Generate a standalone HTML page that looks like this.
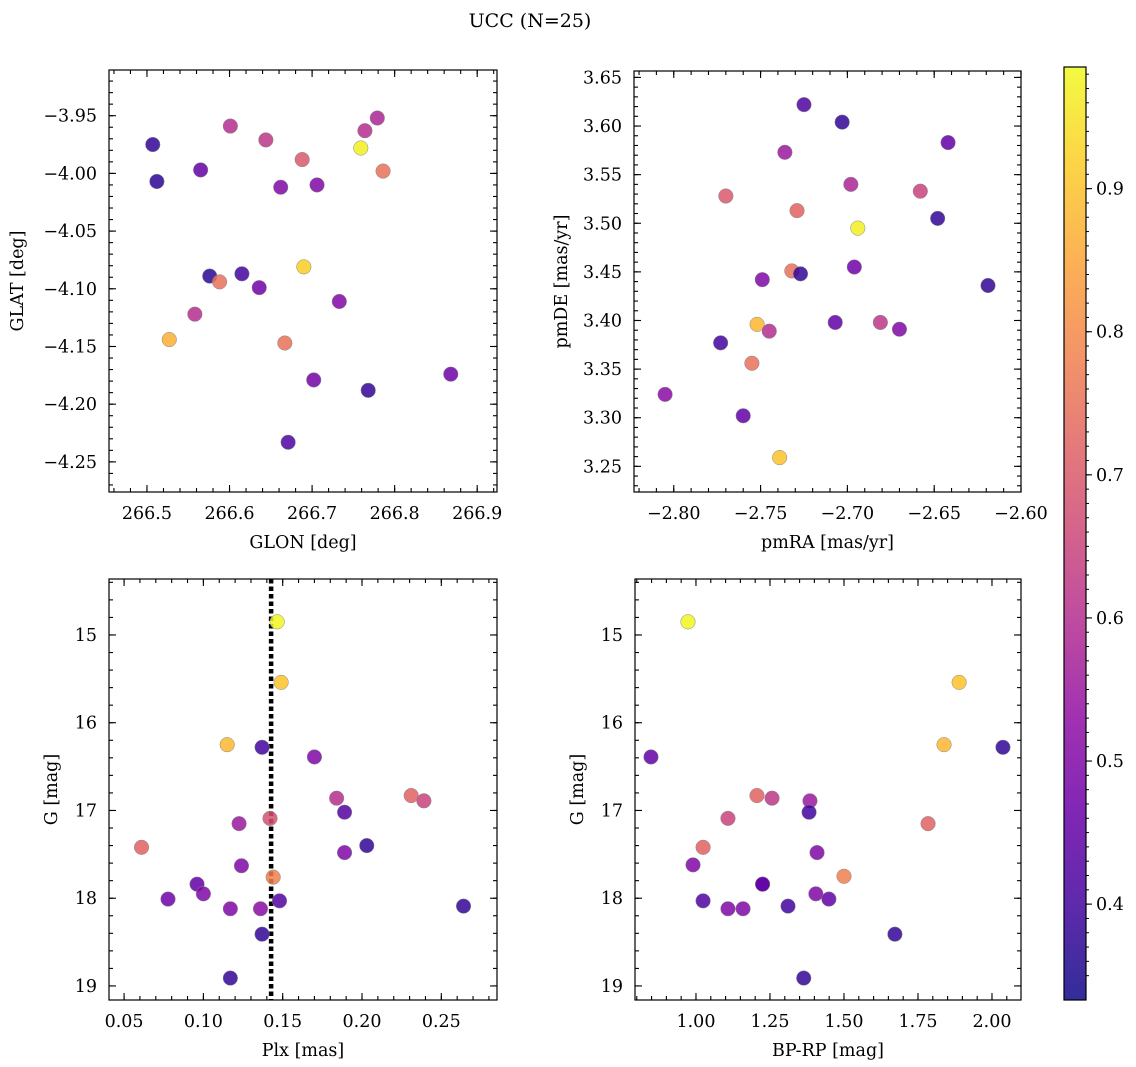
<!DOCTYPE html>
<html><head><meta charset="utf-8"><style>
body{margin:0;background:#fff;}
svg{display:block;font-family:"DejaVu Serif","Liberation Serif",serif;}
</style></head><body>
<svg id="fig" width="1136" height="1067" viewBox="0 0 1136 1067" xmlns="http://www.w3.org/2000/svg">
<text x="530" y="27" font-size="19" text-anchor="middle">UCC (N=25)</text>
</svg>
<script>
// ---- data ----
const glon = [266.507,266.512,266.565,266.601,266.644,266.688,266.662,266.706,266.764,266.779,266.759,266.786,266.576,266.615,266.588,266.636,266.690,266.733,266.558,266.527,266.667,266.702,266.768,266.868,266.671];
const glat = [-3.975,-4.007,-3.997,-3.959,-3.971,-3.988,-4.012,-4.010,-3.963,-3.952,-3.978,-3.998,-4.089,-4.087,-4.094,-4.099,-4.081,-4.111,-4.122,-4.144,-4.147,-4.179,-4.188,-4.174,-4.233];
const probTL = [0.38,0.37,0.45,0.6,0.62,0.7,0.5,0.5,0.6,0.58,0.97,0.75,0.37,0.4,0.75,0.47,0.92,0.5,0.6,0.87,0.75,0.48,0.38,0.47,0.42];
const pmra = [-2.725,-2.703,-2.736,-2.642,-2.770,-2.729,-2.698,-2.658,-2.648,-2.694,-2.749,-2.732,-2.727,-2.696,-2.619,-2.752,-2.745,-2.707,-2.681,-2.670,-2.773,-2.755,-2.805,-2.760,-2.739];
const pmde = [3.622,3.604,3.573,3.583,3.528,3.513,3.540,3.533,3.505,3.495,3.442,3.451,3.448,3.455,3.436,3.396,3.389,3.398,3.398,3.391,3.377,3.356,3.324,3.302,3.259];
const probTR = [0.42,0.38,0.55,0.45,0.7,0.72,0.58,0.65,0.38,0.97,0.5,0.75,0.38,0.47,0.38,0.88,0.6,0.45,0.62,0.5,0.4,0.75,0.52,0.45,0.9];
const plx = [0.1465,0.149,0.115,0.137,0.170,0.061,0.184,0.231,0.239,0.189,0.1225,0.142,0.189,0.203,0.124,0.144,0.096,0.0777,0.100,0.117,0.136,0.148,0.137,0.264,0.117];
const gmagBL = [14.85,15.54,16.25,16.28,16.39,17.42,16.86,16.83,16.89,17.02,17.15,17.09,17.48,17.40,17.63,17.76,17.84,18.01,17.95,18.12,18.12,18.03,18.41,18.09,18.91];
const probBL = [0.98,0.9,0.88,0.4,0.5,0.72,0.6,0.72,0.65,0.43,0.55,0.68,0.5,0.38,0.5,0.78,0.45,0.47,0.5,0.5,0.52,0.43,0.38,0.38,0.38];
const bprp = [0.973,1.889,1.838,2.037,0.848,1.024,1.108,1.206,1.257,1.385,1.382,1.784,1.409,0.990,1.500,1.225,1.225,1.024,1.108,1.159,1.405,1.449,1.311,1.672,1.364];
const gmagBR = [14.85,15.54,16.25,16.28,16.39,17.42,17.09,16.83,16.86,16.89,17.02,17.15,17.48,17.62,17.75,17.84,17.84,18.03,18.12,18.12,17.95,18.01,18.09,18.41,18.91];
const probBR = [0.98,0.9,0.88,0.38,0.45,0.72,0.65,0.72,0.62,0.55,0.4,0.72,0.5,0.5,0.78,0.45,0.45,0.42,0.5,0.5,0.5,0.45,0.4,0.38,0.38];
const plxLine = [0.1427];
const cbTicks = [0.4,0.5,0.6,0.7,0.8,0.9];
const vmin = 0.333, vmax = 0.985;

const NS="http://www.w3.org/2000/svg";
const svg=document.getElementById('fig');
function mk(tag,attrs,parent){const e=document.createElementNS(NS,tag);for(const k in attrs)e.setAttribute(k,attrs[k]);(parent||svg).appendChild(e);return e;}
const plasma=[[13,8,135],[65,4,157],[106,0,168],[143,13,164],[177,42,144],[204,71,120],[225,100,98],[242,132,75],[252,166,54],[252,206,37],[240,249,33]];
function cmap(v){let t=(v-vmin)/(vmax-vmin);t=Math.max(0,Math.min(1,t));const f=t*10,i=Math.min(9,Math.floor(f)),r=f-i;const a=plasma[i],b=plasma[i+1];return `rgb(${Math.round(a[0]+(b[0]-a[0])*r)},${Math.round(a[1]+(b[1]-a[1])*r)},${Math.round(a[2]+(b[2]-a[2])*r)})`;}
const FS=17.5;
function panel(o){
  const g=mk('g',{});
  
  
  const sx=v=>o.L+(v-o.x0)/(o.x1-o.x0)*(o.R-o.L);
  const sy=v=>o.T+(v-o.y0)/(o.y1-o.y0)*(o.B-o.T);
  const eps=1e-9;
  function ticksX(step,len,labels){const s=Math.ceil(Math.min(o.x0,o.x1)/step-eps);for(let k=s;k*step<=Math.max(o.x0,o.x1)+eps;k++){const v=k*step,x=sx(v);mk('line',{x1:x,x2:x,y1:o.B,y2:o.B-len,stroke:'#000','stroke-width':1.1},g);mk('line',{x1:x,x2:x,y1:o.T,y2:o.T+len,stroke:'#000','stroke-width':1.1},g);
    if(labels){const t=mk('text',{x:x,y:o.B+27,'font-size':FS,'text-anchor':'middle'},g);t.textContent=o.fx(v);}}}
  function ticksY(step,len,labels){const lo=Math.min(o.y0,o.y1),hi=Math.max(o.y0,o.y1);const s=Math.ceil(lo/step-eps);for(let k=s;k*step<=hi+eps;k++){const v=k*step,y=sy(v);mk('line',{x1:o.L,x2:o.L+len,y1:y,y2:y,stroke:'#000','stroke-width':1.1},g);mk('line',{x1:o.R,x2:o.R-len,y1:y,y2:y,stroke:'#000','stroke-width':1.1},g);
    if(labels){const t=mk('text',{x:o.L-12,y:y+6,'font-size':FS,'text-anchor':'end'},g);t.textContent=o.fy(v);}}}
  ticksX(o.xmin,4,false);ticksX(o.xmaj,7,true);ticksY(o.ymin,4,false);ticksY(o.ymaj,7,true);
  if(o.vline){o.vline.forEach(v=>{const l=mk('line',{x1:sx(v),x2:sx(v),y1:o.T,y2:o.B,stroke:'#000','stroke-width':4.5,'stroke-dasharray':'4.5,3'},g);});}
  o.xs.forEach((v,i)=>{const c=mk('circle',{cx:sx(v),cy:sy(o.ys[i]),r:7.3,fill:cmap(o.cs[i]),'fill-opacity':0.85,stroke:'#888','stroke-width':0.5},g);
    });
  const fr=mk('rect',{x:o.L,y:o.T,width:o.R-o.L,height:o.B-o.T,fill:'none',stroke:'#000','stroke-width':1.2},g);
  
  const xl=mk('text',{x:(o.L+o.R)/2,y:o.B+56,'font-size':FS,'text-anchor':'middle'},g);xl.textContent=o.xlab;
  
  const yc=(o.T+o.B)/2;const yl=mk('text',{x:o.ylx,y:yc,'font-size':FS,'text-anchor':'middle',transform:`rotate(-90 ${o.ylx} ${yc})`},g);yl.textContent=o.ylab;
  
}
const f2=v=>v.toFixed(2).replace('-','\u2212');
const f1=v=>v.toFixed(1).replace('-','\u2212');
const f0=v=>v.toFixed(0);
panel({name:'glon-glat-panel',L:109,R:497,T:70,B:492,x0:266.454,x1:266.924,y0:-3.9104,y1:-4.2761,xmaj:0.1,xmin:0.02,ymaj:0.05,ymin:0.01,fx:f1,fy:f2,xs:glon,ys:glat,cs:probTL,xlab:'GLON [deg]',ylab:'GLAT [deg]',ylx:23});
panel({name:'pm-panel',L:634,R:1021,T:71,B:492,x0:-2.8229,x1:-2.6,y0:3.6566,y1:3.2236,xmaj:0.05,xmin:0.01,ymaj:0.05,ymin:0.01,fx:f2,fy:f2,xs:pmra,ys:pmde,cs:probTR,xlab:'pmRA [mas/yr]',ylab:'pmDE [mas/yr]',ylx:567});
panel({name:'plx-g-panel',L:109,R:497,T:579,B:1000,x0:0.0405,x1:0.2851,y0:14.362,y1:19.16,xmaj:0.05,xmin:0.01,ymaj:1,ymin:0.2,fx:f2,fy:f0,xs:plx,ys:gmagBL,cs:probBL,vline:plxLine,xlab:'Plx [mas]',ylab:'G [mag]',ylx:57});
panel({name:'color-magnitude-panel',L:635,R:1021,T:579,B:1000,x0:0.794,x1:2.098,y0:14.362,y1:19.16,xmaj:0.25,xmin:0.05,ymaj:1,ymin:0.2,fx:f2,fy:f0,xs:bprp,ys:gmagBR,cs:probBR,xlab:'BP-RP [mag]',ylab:'G [mag]',ylx:583});

const cb=mk('g',{});


const CL=1064,CR=1086,CT=67,CB=1000;
const defs=mk('defs',{},cb);const grad=mk('linearGradient',{id:'pg',x1:0,y1:1,x2:0,y2:0},defs);
for(let i=0;i<=10;i++){const p=plasma[i];mk('stop',{offset:(i*10)+'%','stop-color':`rgb(${p[0]},${p[1]},${p[2]})`,'stop-opacity':0.85},grad);}
mk('rect',{x:CL,y:CT,width:CR-CL,height:CB-CT,fill:'url(#pg)',stroke:'#000','stroke-width':1.2},cb);
const cy=v=>CB-(v-vmin)/(vmax-vmin)*(CB-CT);
for(let v=0.35;v<vmax;v+=0.01){const y=cy(v);mk('line',{x1:CR,x2:CR+3,y1:y,y2:y,stroke:'#000','stroke-width':1},cb);}
cbTicks.forEach(v=>{const y=cy(v);mk('line',{x1:CR,x2:CR+6,y1:y,y2:y,stroke:'#000','stroke-width':1.1},cb);
  const t=mk('text',{x:CR+10,y:y+6,'font-size':FS},cb);t.textContent=v.toFixed(1);
  });
</script>
</body></html>
